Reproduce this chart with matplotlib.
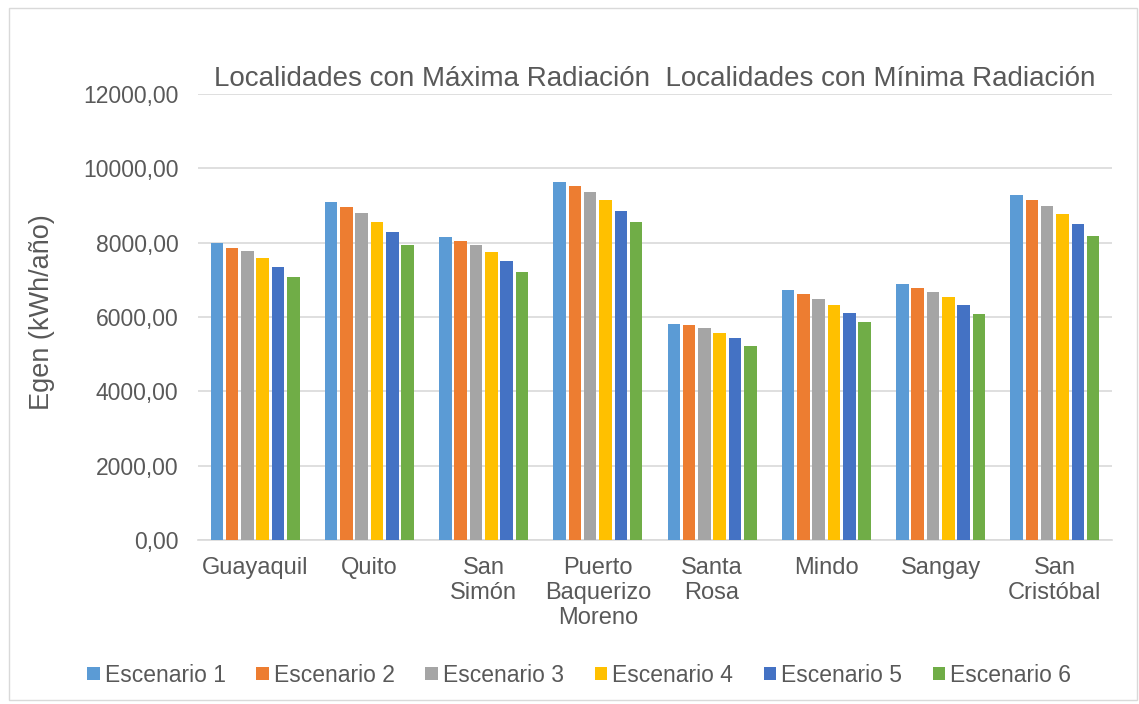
import numpy as np
import matplotlib.pyplot as plt
from matplotlib.patches import Rectangle

plt.rcParams['font.family'] = ['Liberation Sans', 'DejaVu Sans']

localidades = ['Guayaquil', 'Quito', 'San\nSimón', 'Puerto\nBaquerizo\nMoreno',
               'Santa\nRosa', 'Mindo', 'Sangay', 'San\nCristóbal']
escenarios = ['Escenario 1', 'Escenario 2', 'Escenario 3',
              'Escenario 4', 'Escenario 5', 'Escenario 6']

esc1 = [7980, 9100, 8145, 9640, 5815, 6720, 6880, 9280]
esc2 = [7865, 8960, 8045, 9525, 5780, 6615, 6790, 9155]
esc3 = [7770, 8790, 7930, 9355, 5700, 6485, 6685, 8985]
esc4 = [7590, 8555, 7750, 9140, 5575, 6325, 6540, 8770]
esc5 = [7355, 8290, 7515, 8860, 5430, 6100, 6325, 8505]
esc6 = [7080, 7940, 7220, 8550, 5230, 5860, 6085, 8190]
series = [esc1, esc2, esc3, esc4, esc5, esc6]

colores = ['#5B9BD5', '#ED7D31', '#A5A5A5', '#FFC000', '#4472C4', '#70AD47']
texto = '#595959'

fig = plt.figure(figsize=(11.39, 7.04), dpi=100)
# borde exterior del grafico
fig.patches.append(Rectangle((0.008, 0.006), 0.99, 0.982, transform=fig.transFigure,
                             fill=False, edgecolor='#D9D9D9', linewidth=1))
ax = fig.add_axes([0.1738, 0.233, 0.8025, 0.6335])

x = np.arange(len(localidades))
paso = 0.134
for i, (vals, col, nom) in enumerate(zip(series, colores, escenarios)):
    ax.bar(x + (i - 2.5) * paso, vals, width=paso * 0.82, color=col, label=nom, zorder=3)

ax.set_xlim(-0.5, len(localidades) - 0.5)
ax.set_ylim(0, 12000)
ax.set_yticks(np.arange(0, 12001, 2000))
ax.set_yticklabels([f'{v:.2f}'.replace('.', ',') for v in np.arange(0, 12001, 2000)])
ax.set_xticks(x)
ax.set_xticklabels(localidades, linespacing=1.2)
ax.tick_params(axis='both', length=0, colors=texto)
ax.tick_params(axis='y', pad=14, labelsize=16.5)
ax.tick_params(axis='x', pad=12, labelsize=17)
for lbl in ax.get_xticklabels():
    lbl.set_verticalalignment('top')

ax.grid(axis='y', color='#D9D9D9', linewidth=1.2, zorder=0)
for s in ['top', 'right', 'left']:
    ax.spines[s].set_visible(False)
ax.spines['bottom'].set_color('#D9D9D9')
ax.spines['bottom'].set_linewidth(1.2)

ax.set_ylabel('Egen (kWh/año)', fontsize=19.5, color=texto, va='center')
ax.yaxis.set_label_coords(-0.171, 0.511)

ax.text(0.5, 1.005, 'Localidades con Máxima Radiación  Localidades con Mínima Radiación',
        transform=ax.transAxes, ha='center', va='bottom', fontsize=20, color=texto)

ax.legend(loc='center', bbox_to_anchor=(0.417, -0.303), ncol=6, frameon=False,
          fontsize=16.5, labelcolor=texto, handlelength=0.55, handleheight=0.55,
          handletextpad=0.2, columnspacing=1.35)

fig.savefig('out.png', dpi=100)
